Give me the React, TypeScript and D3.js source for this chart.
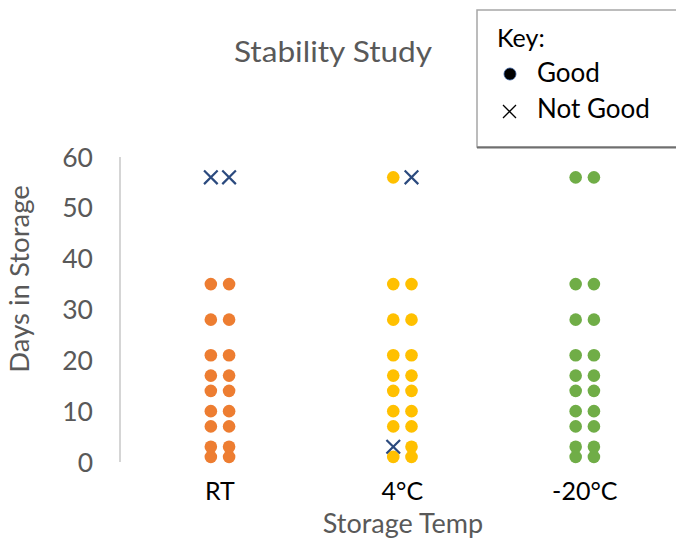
import React from "react";
import * as d3 from "d3";

const categories = ["RT", "4°C", "-20°C"];
const days = [1, 3, 7, 10, 14, 17, 21, 28, 35, 56];
const colors = ["#ED7D31", "#FFC000", "#70AD47"];
// status per category: [left replicate, right replicate] per day; 1 = Good, 0 = Not Good
const statusRT = [[1,1],[1,1],[1,1],[1,1],[1,1],[1,1],[1,1],[1,1],[1,1],[0,0]];
const status4C = [[1,1],[0,1],[1,1],[1,1],[1,1],[1,1],[1,1],[1,1],[1,1],[1,0]];
const statusM20 = [[1,1],[1,1],[1,1],[1,1],[1,1],[1,1],[1,1],[1,1],[1,1],[1,1]];
const statuses = [statusRT, status4C, statusM20];
const yTicks = [0, 10, 20, 30, 40, 50, 60];
const replicateOffsets = [-0.05, 0.05];

const FONT = "Lato, 'Open Sans', sans-serif";

export default function App() {
  const W = 676, H = 540;
  const x = d3.scaleLinear().domain([0.452, 3.5]).range([120, 676]);
  const y = d3.scaleLinear().domain([0, 60]).range([462, 157]);
  const s = 6.8;

  const marks: any[] = [];
  categories.forEach((c, ci) => {
    days.forEach((d, di) => {
      replicateOffsets.forEach((off, ri) => {
        const cx = x(ci + 1 + off);
        const cy = y(d);
        const good = statuses[ci][di][ri] === 1;
        if (good) {
          marks.push(<circle key={`${ci}-${di}-${ri}`} cx={cx} cy={cy} r={6.3} fill={colors[ci]} />);
        } else {
          marks.push(
            <path key={`${ci}-${di}-${ri}`} d={`M${cx - s},${cy - s}L${cx + s},${cy + s}M${cx - s},${cy + s}L${cx + s},${cy - s}`} stroke="#2B4A7E" strokeWidth={2.2} fill="none" />
          );
        }
      });
    });
  });

  return (
    <svg width={W} height={H} style={{ position: "absolute", left: 0, top: 0, background: "#fff" }} fontFamily={FONT}>
      <rect width={W} height={H} fill="#fff" />
      <text transform="translate(333,62) scale(1.13,1)" textAnchor="middle" fontSize={28} fill="#595959">Stability Study</text>
      <line x1={120} x2={120} y1={y(60)} y2={y(0)} stroke="#BFBFBF" strokeWidth={1.3} />
      {yTicks.map(t => (
        <text key={t} x={93} y={y(t)} dy="0.36em" textAnchor="end" fontSize={26.5} fill="#595959">{t}</text>
      ))}
      {categories.map((c, i) => (
        <text key={c} x={x(i + 1)} y={500} textAnchor="middle" fontSize={25} fill="#000">{c}</text>
      ))}
      <text x={403} y={533} textAnchor="middle" fontSize={27} fill="#595959">Storage Temp</text>
      <text transform="translate(29,279) rotate(-90)" textAnchor="middle" fontSize={27.5} fill="#595959">Days in Storage</text>
      {marks}
      <g>
        <rect x={477} y={10} width={210} height={137} fill="#fff" stroke="#A6A6A6" strokeWidth={1.5} />
        <line x1={477} x2={676} y1={147.5} y2={147.5} stroke="#6F6F6F" strokeWidth={2} />
        <text x={497} y={47} fontSize={25} fill="#000">Key:</text>
        <circle cx={510} cy={74} r={6} fill="#000" stroke="#2F5597" strokeWidth={0.8} />
        <text x={537} y={82} fontSize={26} fill="#000">Good</text>
        <path d="M503,105L516,118M503,118L516,105" stroke="#000" strokeWidth={1.3} />
        <text x={537} y={118} fontSize={26} fill="#000">Not Good</text>
      </g>
    </svg>
  );
}
